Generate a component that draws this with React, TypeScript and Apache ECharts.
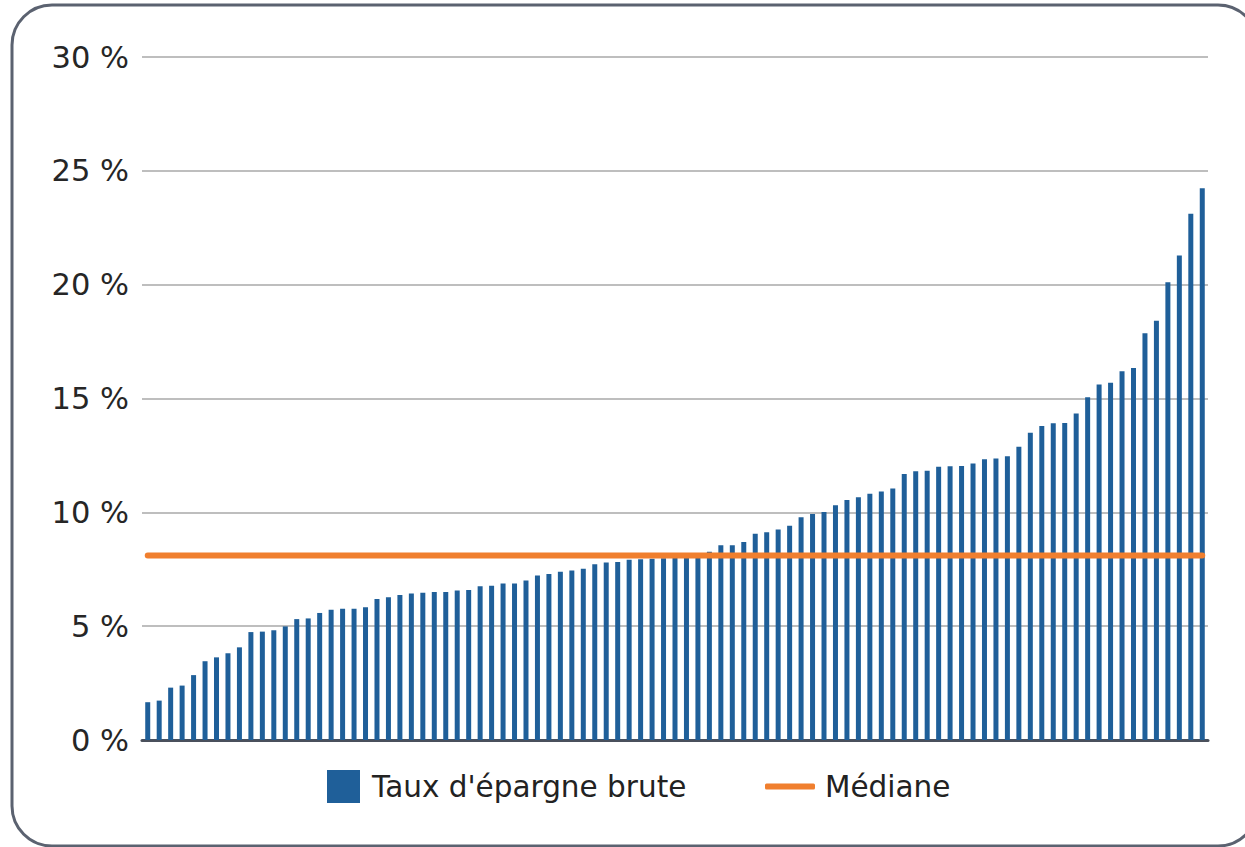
import React, { useEffect, useRef } from "react";
import * as echarts from "echarts";

// Gross savings rate per entity, sorted ascending (in %)
const savingsRate: number[] = [
  1.66, 1.73, 2.3, 2.39, 2.85, 3.46, 3.63, 3.81, 4.07, 4.74, 4.76, 4.82, 4.99, 5.31, 5.34, 5.58,
  5.72, 5.77, 5.77, 5.83, 6.19, 6.27, 6.37, 6.43,
  6.47, 6.5, 6.5, 6.57, 6.59, 6.75, 6.78, 6.87, 6.87, 7.01, 7.23, 7.29, 7.39, 7.45, 7.52, 7.72,
  7.8, 7.82, 7.92, 7.94, 7.96, 7.98, 8.0,
  8.02, 8.08,
  8.27, 8.55, 8.55, 8.7, 9.06, 9.13, 9.25, 9.41, 9.78, 9.93, 10.01, 10.31, 10.54, 10.66, 10.82,
  10.92, 11.05, 11.68, 11.81, 11.83, 12.0,
  12.02, 12.04, 12.15, 12.33, 12.36, 12.46, 12.88, 13.5, 13.79, 13.91, 13.92, 14.34, 15.06,
  15.61, 15.69, 16.2, 16.34, 17.87, 18.41, 20.11, 21.28, 23.12, 24.23,
];
const medianValue = 8.1;
const categories: string[] = savingsRate.map((_, i) => String(i + 1));
const yTicks = { min: 0, max: 30, interval: 5 };
const seriesNames = ["Taux d'épargne brute", "Médiane"];

const FONT = "DejaVu Sans";

export default function App() {
  const ref = useRef<HTMLDivElement>(null);
  useEffect(() => {
    if (!ref.current) return;
    const chart = echarts.init(ref.current, undefined, { renderer: "svg" });
    chart.setOption({
      animation: false,
      backgroundColor: "#ffffff",
      textStyle: { fontFamily: FONT },
      grid: { left: 142, right: 37, top: 57, bottom: 107, containLabel: false },
      graphic: [
        {
          type: "rect",
          z: -10,
          silent: true,
          shape: { x: 12, y: 5, width: 1246, height: 841, r: 40 },
          style: { fill: "none", stroke: "#5b6270", lineWidth: 3 },
        },
      ],
      legend: [
        {
          data: [{ name: seriesNames[0], icon: "rect" }],
          left: 327,
          top: 770,
          padding: 0,
          itemWidth: 33,
          itemHeight: 33,
          textStyle: { fontFamily: FONT, fontSize: 29.5, color: "#222", lineHeight: 33, padding: [0, 0, 0, 7] },
        },
        {
          data: [{ name: seriesNames[1], icon: "roundRect" }],
          left: 765,
          top: 770,
          padding: 0,
          itemWidth: 50,
          itemHeight: 6,
          textStyle: { fontFamily: FONT, fontSize: 29.5, color: "#222", lineHeight: 33, padding: [0, 0, 0, 5] },
        },
      ],
      xAxis: {
        type: "category",
        data: categories,
        boundaryGap: true,
        axisLine: { show: true, lineStyle: { color: "#4a505c", width: 3 } },
        axisTick: { show: false },
        axisLabel: { show: false },
        splitLine: { show: false },
      },
      yAxis: {
        type: "value",
        min: yTicks.min,
        max: yTicks.max,
        interval: yTicks.interval,
        axisLine: { show: false },
        axisTick: { show: false },
        axisLabel: {
          formatter: "{value} %",
          fontFamily: FONT,
          fontSize: 30.5,
          color: "#262626",
          margin: 13,
        },
        splitLine: { show: true, lineStyle: { color: "#a8a8a8", width: 1.5 } },
      },
      series: [
        {
          name: seriesNames[0],
          type: "bar",
          data: savingsRate,
          barWidth: 5,
          itemStyle: { color: "#1f5f99" },
          z: 2,
        },
        {
          name: seriesNames[1],
          type: "line",
          data: savingsRate.map(() => medianValue),
          symbol: "none",
          lineStyle: { color: "#f07f2e", width: 6, cap: "round" },
          itemStyle: { color: "#f07f2e" },
          z: 3,
        },
      ],
    });
    return () => chart.dispose();
  }, []);
  return (
    <div
      ref={ref}
      style={{ position: "absolute", left: 0, top: 0, width: 1245, height: 847 }}
    />
  );
}
